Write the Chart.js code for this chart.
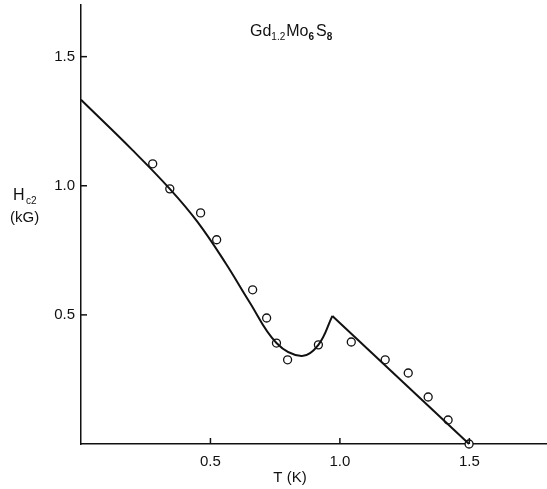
<!DOCTYPE html>
<html>
<head>
<meta charset="utf-8">
<script src="https://cdn.jsdelivr.net/npm/chart.js@4/dist/chart.umd.min.js"></script>
<style>
    html, body { margin: 0; padding: 0; background: #fff; }
    #wrap { width: 547px; height: 489px; position: relative; }
</style>
</head>
<body>
<div id="wrap"><canvas id="chartHc2"></canvas></div>
<script>
// measured points (open circles)
var pointT = [0.277, 0.343, 0.462, 0.524, 0.663, 0.717, 0.755, 0.798, 0.917, 1.044, 1.175, 1.264, 1.341, 1.418, 1.499];
var pointH = [1.085, 0.988, 0.895, 0.791, 0.597, 0.488, 0.391, 0.326, 0.384, 0.395, 0.326, 0.275, 0.182, 0.093, 0.0];

// smooth curve up to the cusp
var curveT = [0, 0.197, 0.343, 0.45, 0.56, 0.65, 0.755, 0.852, 0.917, 0.971];
var curveH = [1.333, 1.140, 0.988, 0.86, 0.698, 0.551, 0.391, 0.341, 0.384, 0.496];

// straight part from the cusp down to Tc
var lineT = [0.971, 1.499];
var lineH = [0.496, 0.0];

var xTicks = [0.5, 1.0, 1.5];
var yTicks = [0.5, 1.0, 1.5];

function toXY(xs, ys) {
    var out = [];
    for (var i = 0; i < xs.length; i++) {
        out.push({x: xs[i], y: ys[i]});
    }
    return out;
}

function setTicks(list) {
    return function(scale) {
        scale.ticks = list.map(function(v) { return {value: v}; });
    };
}

var font = 'Liberation Sans, Arial, sans-serif';

// inward tick marks and the hand-lettered labels
var decorations = {
    id: 'decorations',
    afterDraw: function(chart) {
        var ctx = chart.ctx;
        var area = chart.chartArea;
        var xs = chart.scales.x;
        var ys = chart.scales.y;
        ctx.save();
        ctx.strokeStyle = '#111';
        ctx.lineWidth = 1.5;
        xTicks.forEach(function(v) {
            var px = xs.getPixelForValue(v);
            ctx.beginPath();
            ctx.moveTo(px, area.bottom);
            ctx.lineTo(px, area.bottom - 6);
            ctx.stroke();
        });
        yTicks.forEach(function(v) {
            var py = ys.getPixelForValue(v);
            ctx.beginPath();
            ctx.moveTo(area.left, py);
            ctx.lineTo(area.left + 6, py);
            ctx.stroke();
        });

        ctx.fillStyle = '#111';
        ctx.textBaseline = 'alphabetic';
        ctx.textAlign = 'left';

        // title Gd1.2Mo6S8
        var x = 250, y = 36;
        ctx.font = '16px ' + font;
        ctx.fillText('Gd', x, y); x += ctx.measureText('Gd').width;
        ctx.font = '10px ' + font;
        ctx.fillText('1.2', x, y + 4); x += ctx.measureText('1.2').width + 1;
        ctx.font = '16px ' + font;
        ctx.fillText('Mo', x, y); x += ctx.measureText('Mo').width;
        ctx.font = 'bold 10px ' + font;
        ctx.fillText('6', x, y + 4); x += ctx.measureText('6').width + 2;
        ctx.font = '16px ' + font;
        ctx.fillText('S', x, y); x += ctx.measureText('S').width;
        ctx.font = 'bold 10px ' + font;
        ctx.fillText('8', x, y + 4);

        // y axis label
        ctx.font = '16px ' + font;
        ctx.fillText('H', 13, 200);
        ctx.font = '10px ' + font;
        ctx.fillText('c2', 26, 204);
        ctx.font = '15px ' + font;
        ctx.fillText('(kG)', 10, 222);

        // x axis label
        ctx.textAlign = 'center';
        ctx.fillText('T (K)', 290, 482);
        ctx.restore();
    }
};

new Chart(document.getElementById('chartHc2'), {
    type: 'scatter',
    data: {
        datasets: [{
            label: 'curve',
            data: toXY(curveT, curveH),
            showLine: true,
            tension: 0.4,
            borderColor: '#111',
            borderWidth: 2,
            pointRadius: 0
        }, {
            label: 'line',
            data: toXY(lineT, lineH),
            showLine: true,
            borderColor: '#111',
            borderWidth: 2,
            pointRadius: 0
        }, {
            label: 'data',
            data: toXY(pointT, pointH),
            showLine: false,
            pointRadius: 4,
            pointBorderWidth: 1.3,
            pointBorderColor: '#111',
            pointBackgroundColor: '#fff'
        }]
    },
    options: {
        responsive: true,
        maintainAspectRatio: false,
        animation: false,
        clip: false,
        layout: { autoPadding: false, padding: { top: 5, right: 0, left: 0, bottom: 0 } },
        plugins: {
            legend: { display: false },
            tooltip: { enabled: false }
        },
        scales: {
            x: {
                type: 'linear',
                min: 0,
                max: 1.8,
                afterBuildTicks: setTicks(xTicks),
                afterFit: function(scale) {
                    scale.height = 45;
                    scale.paddingLeft = 0;
                    scale.paddingRight = 0;
                },
                grid: { display: true, drawOnChartArea: false, drawTicks: false },
                border: { display: true, color: '#111', width: 1.5 },
                ticks: {
                    padding: 9,
                    color: '#111',
                    font: { family: font, size: 15 },
                    callback: function(v) { return v.toFixed(1); }
                }
            },
            y: {
                type: 'linear',
                min: 0,
                max: 1.7,
                afterBuildTicks: setTicks(yTicks),
                afterFit: function(scale) {
                    scale.width = 81;
                    scale.paddingTop = 0;
                    scale.paddingBottom = 0;
                },
                grid: { display: true, drawOnChartArea: false, drawTicks: false },
                border: { display: true, color: '#111', width: 1.5 },
                ticks: {
                    padding: 6,
                    color: '#111',
                    font: { family: font, size: 15 },
                    callback: function(v) { return v.toFixed(1); }
                }
            }
        }
    },
    plugins: [decorations]
});
</script>
</body>
</html>
